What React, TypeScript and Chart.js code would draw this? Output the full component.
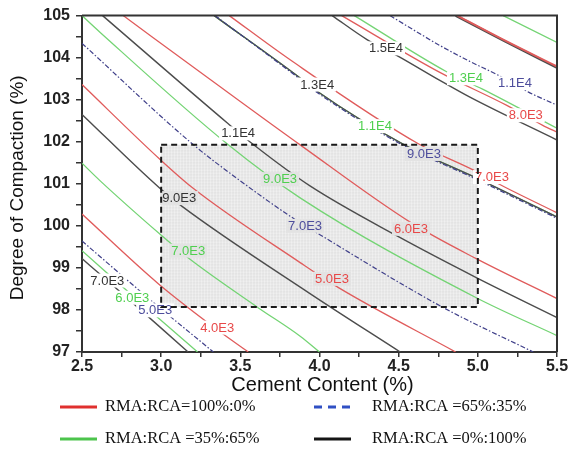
import React, { useEffect, useRef } from 'react';
import { Chart, registerables } from 'chart.js';

Chart.register(...registerables);

// ---------- axes ----------
const X_MIN = 2.5;
const X_MAX = 5.5;
const Y_MIN = 97;
const Y_MAX = 105;
const X_MAJOR = [2.5, 3.0, 3.5, 4.0, 4.5, 5.0, 5.5];
const Y_MAJOR = [97, 98, 99, 100, 101, 102, 103, 104, 105];
const X_TITLE = 'Cement Content (%)';
const Y_TITLE = 'Degree of Compaction (%)';

// ---------- shaded region ----------
const BOX_X = [3.0, 5.0];
const BOX_Y = [98.07, 101.93];

// ---------- contour lines: RMA:RCA=100%:0% (red) ----------
const red4k_x = [2.5, 2.98, 3.35, 3.55];
const red4k_y = [100.28, 98.63, 97.54, 97.0];
const red5k_x = [2.5, 2.99, 3.2, 3.88, 4.12, 4.86];
const red5k_y = [103.36, 101.59, 100.9, 99.12, 98.53, 97.0];
const red6k_x = [2.76, 3.31, 3.88, 4.58, 4.99, 5.5];
const red6k_y = [105, 103.48, 101.92, 100.07, 99.22, 98.27];
const red7k_x = [3.43, 3.81, 4.63, 4.97, 5.12, 5.5];
const red7k_y = [105, 103.96, 101.94, 101.33, 101.02, 100.31];
const red8k_x = [4.14, 4.76, 5.18, 5.41, 5.5];
const red8k_y = [105, 103.65, 102.87, 102.39, 102.23];
const red9k_x = [4.87, 5.17, 5.5];
const red9k_y = [105, 104.41, 103.79];

// ---------- RMA:RCA =35%:65% (green) ----------
const green6k_x = [2.5, 2.82, 3.23];
const green6k_y = [99.41, 98.34, 97.0];
const green7k_x = [2.5, 2.615, 2.99, 3.17, 3.61, 3.88, 4.0];
const green7k_y = [101.49, 101.07, 99.81, 99.24, 98.06, 97.37, 97.0];
const green9k_x = [2.5, 2.615, 3.42, 3.88, 4.99, 5.5];
const green9k_y = [105, 104.6, 101.94, 100.66, 98.29, 97.39];
const green11k_x = [3.335, 3.88, 3.985, 4.53, 4.95, 5.5];
const green11k_y = [105, 103.51, 103.2, 101.94, 101.21, 100.21];
const green13k_x = [4.22, 4.8, 5.03, 5.5];
const green13k_y = [105, 103.67, 103.25, 102.32];
const green15k_x = [5.16, 5.5];
const green15k_y = [105, 104.36];

// ---------- RMA:RCA =65%:35% (blue, dash-dot) ----------
const blue5k_x = [2.5, 2.96, 3.33];
const blue5k_y = [99.64, 98.15, 97.0];
const blue7k_x = [2.5, 3.2, 3.5, 3.83, 3.985, 4.78, 5.35];
const blue7k_y = [104.34, 101.94, 101.07, 100.19, 99.83, 98.06, 97.0];
const blue9k_x = [3.34, 3.88, 3.985, 4.53, 4.95, 5.5];
const blue9k_y = [105, 103.48, 103.17, 101.91, 101.18, 100.18];
const blue11k_x = [4.445, 4.76, 4.95, 5.13, 5.32, 5.5];
const blue11k_y = [105, 104.29, 103.91, 103.58, 103.18, 102.87];

// ---------- RMA:RCA =0%:100% (black) ----------
const black7k_x = [2.5, 2.66, 3.17];
const black7k_y = [99.22, 98.7, 97.0];
const black9k_x = [2.5, 2.99, 3.13, 3.94, 4.51];
const black9k_y = [102.65, 100.9, 100.47, 98.39, 97.0];
const black11k_x = [2.63, 3.42, 3.58, 3.94, 4.49, 4.99, 5.5];
const black11k_y = [105, 102.44, 101.94, 100.95, 99.76, 98.77, 97.82];
const black13k_x = [3.335, 3.88, 3.985, 4.53, 4.95, 5.5];
const black13k_y = [105, 103.51, 103.2, 101.94, 101.21, 100.21];
const black15k_x = [4.08, 4.3, 4.49, 4.76, 4.95, 5.5];
const black15k_y = [105, 104.43, 104.05, 103.46, 103.06, 102.04];
const black17k_x = [4.86, 5.17, 5.5];
const black17k_y = [105, 104.39, 103.76];

// ---------- contour labels ----------
const labelText = ['1.5E4', '1.3E4', '1.1E4', '9.0E3', '7.0E3',
  '1.3E4', '1.1E4', '9.0E3', '7.0E3', '6.0E3',
  '1.1E4', '9.0E3', '7.0E3', '5.0E3',
  '8.0E3', '7.0E3', '6.0E3', '5.0E3', '4.0E3'];
const labelX = [4.42, 3.985, 3.486, 3.114, 2.66,
  4.925, 4.35, 3.751, 3.171, 2.818,
  5.234, 4.66, 3.909, 2.962,
  5.303, 5.089, 4.578, 4.079, 3.354];
const labelY = [104.22, 103.36, 102.2, 100.66, 98.7,
  103.51, 102.37, 101.11, 99.41, 98.29,
  103.39, 101.71, 100.0, 97.99,
  102.63, 101.16, 99.93, 98.74, 97.58];
const labelFamily = ['black', 'black', 'black', 'black', 'black',
  'green', 'green', 'green', 'green', 'green',
  'blue', 'blue', 'blue', 'blue',
  'red', 'red', 'red', 'red', 'red'];

// ---------- legend ----------
const legendNames = ['RMA:RCA=100%:0%', 'RMA:RCA =65%:35%', 'RMA:RCA =35%:65%', 'RMA:RCA =0%:100%'];
const legendFamily = ['red', 'blue', 'green', 'black'];

const STYLE: Record<string, { color: string; width: number; dash: number[]; order: number; label: string; legend: string }> = {
  green: { color: '#74d474', width: 1.3, dash: [], order: 4, label: '#4fcf4f', legend: '#4cc44c' },
  black: { color: '#4d4d4d', width: 1.4, dash: [], order: 3, label: '#333333', legend: '#151515' },
  red: { color: '#e05c5c', width: 1.3, dash: [], order: 2, label: '#e84848', legend: '#e0302e' },
  blue: { color: '#40408a', width: 1.2, dash: [5, 2, 1.5, 2], order: 1, label: '#4d4d9c', legend: '#3050c4' },
};

const LINES: { xs: number[]; ys: number[]; fam: string; w?: number }[] = [
  { xs: red4k_x, ys: red4k_y, fam: 'red' },
  { xs: red5k_x, ys: red5k_y, fam: 'red' },
  { xs: red6k_x, ys: red6k_y, fam: 'red' },
  { xs: red7k_x, ys: red7k_y, fam: 'red' },
  { xs: red8k_x, ys: red8k_y, fam: 'red' },
  { xs: red9k_x, ys: red9k_y, fam: 'red', w: 2 },
  { xs: green6k_x, ys: green6k_y, fam: 'green' },
  { xs: green7k_x, ys: green7k_y, fam: 'green' },
  { xs: green9k_x, ys: green9k_y, fam: 'green' },
  { xs: green11k_x, ys: green11k_y, fam: 'green' },
  { xs: green13k_x, ys: green13k_y, fam: 'green' },
  { xs: green15k_x, ys: green15k_y, fam: 'green' },
  { xs: blue5k_x, ys: blue5k_y, fam: 'blue' },
  { xs: blue7k_x, ys: blue7k_y, fam: 'blue' },
  { xs: blue9k_x, ys: blue9k_y, fam: 'blue' },
  { xs: blue11k_x, ys: blue11k_y, fam: 'blue' },
  { xs: black7k_x, ys: black7k_y, fam: 'black' },
  { xs: black9k_x, ys: black9k_y, fam: 'black' },
  { xs: black11k_x, ys: black11k_y, fam: 'black' },
  { xs: black13k_x, ys: black13k_y, fam: 'black' },
  { xs: black15k_x, ys: black15k_y, fam: 'black' },
  { xs: black17k_x, ys: black17k_y, fam: 'black', w: 2.4 },
];

const SANS = '"Liberation Sans", Arial, Helvetica, sans-serif';
const SERIF = '"Liberation Serif", "Times New Roman", serif';
const BOX_FILL = '#e3e3e3';

const overlay = {
  id: 'overlay',
  beforeDatasetsDraw(chart: any) {
    const { ctx, scales } = chart;
    const x = scales.x, y = scales.y;
    const l = x.getPixelForValue(BOX_X[0]);
    const r = x.getPixelForValue(BOX_X[1]);
    const t = y.getPixelForValue(BOX_Y[1]);
    const b = y.getPixelForValue(BOX_Y[0]);
    ctx.save();
    ctx.fillStyle = BOX_FILL;
    ctx.fillRect(l, t, r - l, b - t);
    ctx.strokeStyle = 'rgba(255,255,255,0.35)';
    ctx.lineWidth = 1;
    ctx.beginPath();
    for (let px = l + 1.5; px < r; px += 3) { ctx.moveTo(px, t); ctx.lineTo(px, b); }
    for (let py = t + 1.5; py < b; py += 3) { ctx.moveTo(l, py); ctx.lineTo(r, py); }
    ctx.stroke();
    ctx.restore();
  },
  afterDatasetsDraw(chart: any) {
    const { ctx, scales, chartArea } = chart;
    const x = scales.x, y = scales.y;
    const l = x.getPixelForValue(BOX_X[0]);
    const r = x.getPixelForValue(BOX_X[1]);
    const t = y.getPixelForValue(BOX_Y[1]);
    const b = y.getPixelForValue(BOX_Y[0]);
    ctx.save();
    ctx.font = `13px ${SANS}`;
    ctx.textAlign = 'center';
    ctx.textBaseline = 'middle';
    for (let i = 0; i < labelText.length; i++) {
      const px = x.getPixelForValue(labelX[i]);
      const py = y.getPixelForValue(labelY[i]);
      const w = ctx.measureText(labelText[i]).width;
      const inside = labelX[i] >= BOX_X[0] && labelX[i] <= BOX_X[1] && labelY[i] >= BOX_Y[0] && labelY[i] <= BOX_Y[1];
      ctx.fillStyle = inside ? BOX_FILL : '#ffffff';
      ctx.fillRect(px - w / 2 - 2, py - 7, w + 4, 14);
      ctx.fillStyle = STYLE[labelFamily[i]].label;
      ctx.fillText(labelText[i], px, py + 0.5);
    }
    // dashed box border
    ctx.strokeStyle = '#1a1a1a';
    ctx.lineWidth = 2;
    ctx.setLineDash([6, 4]);
    ctx.strokeRect(l, t, r - l, b - t);
    ctx.setLineDash([]);
    // frame top & right
    ctx.strokeStyle = '#333';
    ctx.lineWidth = 2;
    ctx.beginPath();
    ctx.moveTo(chartArea.left, chartArea.top);
    ctx.lineTo(chartArea.right, chartArea.top);
    ctx.lineTo(chartArea.right, chartArea.bottom);
    ctx.stroke();
    ctx.restore();
  },
  afterDraw(chart: any) {
    const { ctx, chartArea } = chart;
    ctx.save();
    ctx.fillStyle = '#111';
    ctx.textAlign = 'center';
    ctx.textBaseline = 'middle';
    ctx.font = `20px ${SANS}`;
    ctx.fillText(X_TITLE, (chartArea.left + chartArea.right) / 2 + 3, chartArea.bottom + 33);
    ctx.save();
    ctx.translate(18, (chartArea.top + chartArea.bottom) / 2 + 4);
    ctx.rotate(-Math.PI / 2);
    ctx.font = `19px ${SANS}`;
    ctx.fillText(Y_TITLE, 0, 0);
    ctx.restore();

    // legend (2 x 2)
    const rowsY = [chartArea.bottom + 55, chartArea.bottom + 87];
    const colX = [60, 314];
    ctx.font = `16.5px ${SERIF}`;
    ctx.textAlign = 'left';
    for (let i = 0; i < legendNames.length; i++) {
      const row = Math.floor(i / 2), col = i % 2;
      const st = STYLE[legendFamily[i]];
      const ly = rowsY[row];
      const lx = colX[col];
      ctx.strokeStyle = st.legend;
      ctx.lineWidth = 3;
      ctx.setLineDash(legendFamily[i] === 'blue' ? [8, 6] : []);
      ctx.beginPath();
      ctx.moveTo(lx, ly);
      ctx.lineTo(lx + 37, ly);
      ctx.stroke();
      ctx.setLineDash([]);
      ctx.fillStyle = '#111';
      ctx.fillText(legendNames[i], lx + (col === 0 ? 45 : 58), ly);
    }
    ctx.restore();
  },
};

export default function App() {
  const ref = useRef<HTMLCanvasElement>(null);
  useEffect(() => {
    const canvas = ref.current;
    if (!canvas) return;
    const datasets = LINES.map((ln) => {
      const st = STYLE[ln.fam];
      return {
        data: ln.xs.map((xv, i) => ({ x: xv, y: ln.ys[i] })),
        borderColor: st.color,
        borderWidth: ln.w ?? st.width,
        borderDash: st.dash,
        pointRadius: 0,
        fill: false,
        cubicInterpolationMode: 'monotone' as const,
        order: st.order,
      };
    });
    const isMajor = (v: number, arr: number[]) => arr.some((m) => Math.abs(m - v) < 1e-6);
    const chart = new Chart(canvas, {
      type: 'line',
      data: { datasets },
      options: {
        responsive: false,
        animation: false,
        devicePixelRatio: 1,
        events: [],
        layout: { padding: { left: 0, top: 14, right: 13, bottom: 92 } },
        plugins: { legend: { display: false }, tooltip: { enabled: false } },
        scales: {
          x: {
            type: 'linear',
            min: X_MIN,
            max: X_MAX,
            afterFit: (s: any) => { s.height = 30; },
            ticks: {
              stepSize: 0.25,
              autoSkip: false,
              maxRotation: 0,
              padding: 0,
              color: '#222',
              font: { family: SANS, size: 16, weight: 'bold' },
              callback: (v: any) => (isMajor(Number(v), X_MAJOR) ? Number(v).toFixed(1) : ''),
            },
            grid: { drawOnChartArea: false, drawTicks: true, tickLength: 5, color: '#333', lineWidth: 1.5 },
            border: { display: true, color: '#333', width: 2 },
          },
          y: {
            type: 'linear',
            min: Y_MIN,
            max: Y_MAX,
            afterFit: (s: any) => { s.width = 82; },
            ticks: {
              stepSize: 0.5,
              autoSkip: false,
              padding: 6,
              color: '#222',
              font: { family: SANS, size: 16, weight: 'bold' },
              callback: (v: any) => (isMajor(Number(v), Y_MAJOR) ? String(Math.round(Number(v))) : ''),
            },
            grid: { drawOnChartArea: false, drawTicks: true, tickLength: 6, color: '#333', lineWidth: 1.5 },
            border: { display: true, color: '#333', width: 2 },
          },
        },
      },
      plugins: [overlay],
    } as any);
    return () => chart.destroy();
  }, []);
  return (
    <div style={{ position: 'fixed', left: 0, top: 0, width: 570, height: 474, background: '#fff' }}>
      <canvas ref={ref} width={570} height={474} style={{ display: 'block' }} />
    </div>
  );
}
